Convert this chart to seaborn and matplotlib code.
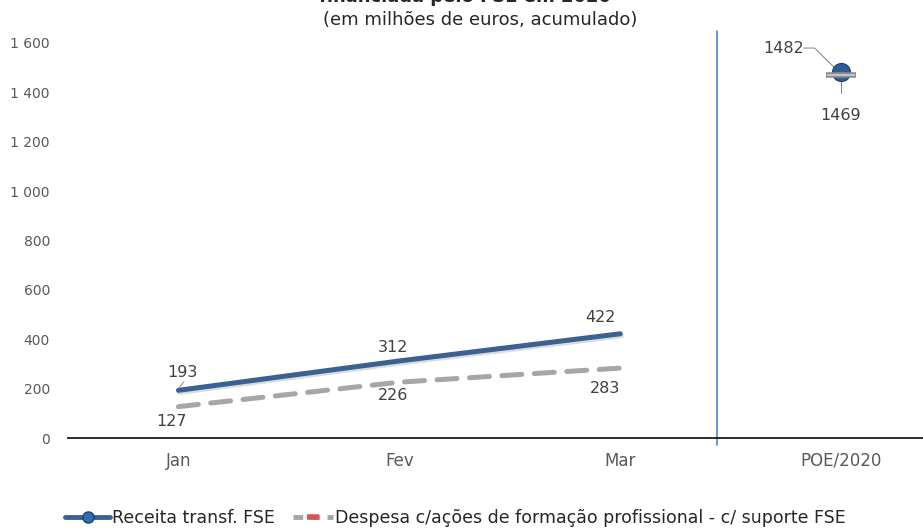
import numpy as np
import pandas as pd
import matplotlib
matplotlib.use("Agg")
import matplotlib.pyplot as plt
import matplotlib.patheffects as pe
from matplotlib.lines import Line2D
import seaborn as sns

# Monthly cumulative values (million euros) and the annual budget (POE/2020)
months = ["Jan", "Fev", "Mar"]
budget_label = "POE/2020"
receita = [193, 312, 422]
despesa = [127, 226, 283]
receita_poe = [1482]
despesa_poe = [1469]

name_receita = "Receita transf. FSE"
name_despesa = "Despesa c/ações de formação profissional - c/ suporte FSE"

yticks = [0, 200, 400, 600, 800, 1000, 1200, 1400, 1600]
ytick_labels = ["0", "200", "400", "600", "800", "1 000", "1 200", "1 400", "1 600"]

sns.set_theme(style="white")
plt.rcParams["font.family"] = ["DejaVu Sans"]

txt = "#595959"
blue = "#3B6193"
grey = "#A6A6A6"

fig = plt.figure(figsize=(9.23, 5.29), dpi=100)
ax = fig.add_axes([68 / 923, (529 - 438) / 529, 1 - 68 / 923, (438 - 31) / 529])

df_r = pd.DataFrame({"mes": months, "valor": receita})
df_d = pd.DataFrame({"mes": months, "valor": despesa})
df_rp = pd.DataFrame({"mes": [budget_label], "valor": receita_poe})
df_dp = pd.DataFrame({"mes": [budget_label], "valor": despesa_poe})

# lines for the monthly figures
sns.lineplot(data=df_r, x="mes", y="valor", ax=ax, color=blue, lw=3.6, sort=False,
             path_effects=[pe.SimpleLineShadow(offset=(1, -1.5), alpha=0.15), pe.Normal()],
             solid_capstyle="round", zorder=4)
sns.lineplot(data=df_d, x="mes", y="valor", ax=ax, color=grey, lw=3.6, sort=False,
             dashes=False, zorder=3)
ax.lines[-1].set_dashes([4, 2.5])
ax.lines[-1].set_dash_capstyle("round")

# budget markers
sns.scatterplot(data=df_rp, x="mes", y="valor", ax=ax, s=170, color="#2E5C99",
                edgecolor="#1E3F6E", linewidth=0.8, zorder=5)
sns.scatterplot(data=df_dp, x="mes", y="valor", ax=ax, marker="_", s=460,
                color="#8C8C8C", linewidth=4, zorder=6)
sns.scatterplot(data=df_dp, x="mes", y="valor", ax=ax, marker="_", s=420,
                color="#D0D0D0", linewidth=1.2, zorder=7)

ax.set_xlim(-0.5, (923 - 178) / 221)
ax.set_ylim(0, 1648)
ax.set_yticks(yticks)
ax.set_yticklabels(ytick_labels)
ax.set_xlabel("")
ax.set_ylabel("")
ax.tick_params(axis="y", length=0, pad=13, labelsize=10, labelcolor=txt)
ax.tick_params(axis="x", length=0, pad=10, labelsize=12, labelcolor=txt)
for s in ["top", "right", "left"]:
    ax.spines[s].set_visible(False)
ax.spines["bottom"].set_color("#1a1a1a")
ax.spines["bottom"].set_linewidth(1.3)
ax.grid(False)

# separator between monthly values and the annual budget
ax.axvline(2.44, ymin=-0.017, ymax=1.0, color="#4A86C8", lw=1.2, clip_on=False, zorder=2)

# data labels
lab = dict(fontsize=11.5, color="#404040", ha="center", va="center")
ax.text(0.02, 267, f"{receita[0]}", **lab)
ax.plot([0.0, 0.025], [200, 228], color="#808080", lw=0.6)
ax.text(0.97, 368, f"{receita[1]}", **lab)
ax.text(1.91, 486, f"{receita[2]}", **lab)
ax.text(-0.03, 65, f"{despesa[0]}", **lab)
ax.text(0.97, 174, f"{despesa[1]}", **lab)
ax.text(1.93, 202, f"{despesa[2]}", **lab)
ax.text(2.74, 1579, f"{receita_poe[0]}", **lab)
ax.plot([2.83, 2.88, 2.97], [1579, 1579, 1500], color="#808080", lw=0.7, zorder=4)
ax.text(3.0, 1307, f"{despesa_poe[0]}", **lab)
ax.plot([3.0, 3.0], [1469, 1395], color="#808080", lw=0.7, zorder=4)

# titles
fig.text(465 / 923, 1 + 3 / 529, "financiada pelo FSE em 2020", ha="center", va="center",
         fontsize=13, fontweight="bold", color="#262626")
fig.text(480 / 923, 1 - 20 / 529, "(em milhões de euros, acumulado)", ha="center",
         va="center", fontsize=13, color="#262626")

# legend entries
h1 = Line2D([0], [0], color=blue, lw=3.5, marker="o", markersize=8,
            markerfacecolor="#2E6DB4", markeredgecolor="#1E3F6E")
h2 = Line2D([0], [0], color=grey, lw=3.5, ls=(0, (2, 1.5)), marker="_", markersize=9,
            markeredgewidth=4, markeredgecolor="#D9534F")
common = dict(loc="center left", frameon=False, fontsize=12.5, handletextpad=0.12,
              labelcolor="#262626", borderaxespad=0, borderpad=0)
fig.legend([h1], [name_receita], bbox_to_anchor=(65 / 923, 1 - 518 / 529),
           handlelength=2.6, **common)
fig.legend([h2], [name_despesa], bbox_to_anchor=(293 / 923, 1 - 518 / 529),
           handlelength=2.3, **common)

fig.savefig("out.png", dpi=100)
